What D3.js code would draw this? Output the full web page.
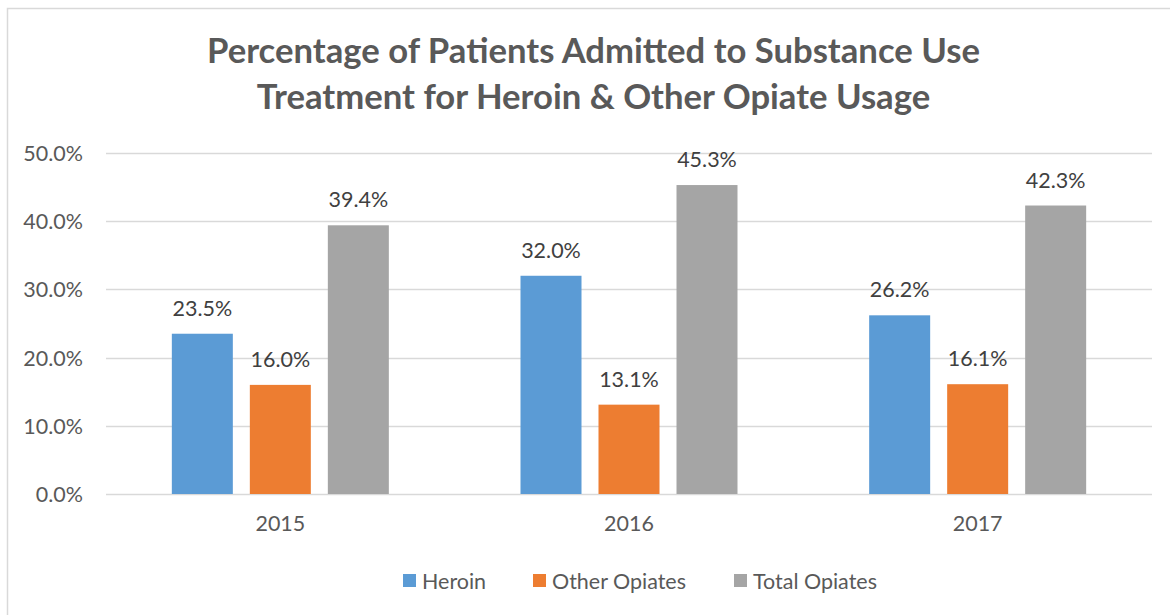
<!DOCTYPE html>
<html>
<head>
<meta charset="utf-8">
<script src="https://cdn.jsdelivr.net/npm/d3@7"></script>
<style>
  html, body { margin: 0; padding: 0; background: #fff; }
  svg { display: block; }
  text { font-family: Lato, "Open Sans", "DejaVu Sans", sans-serif; }
</style>
</head>
<body>
<svg id="chart" width="1170" height="615"></svg>
<script>
const titleLines = ["Percentage of Patients Admitted to Substance Use", "Treatment for Heroin & Other Opiate Usage"];
const years = ["2015", "2016", "2017"];
const seriesNames = ["Heroin", "Other Opiates", "Total Opiates"];
const heroin = [0.235, 0.320, 0.262];
const otherOpiates = [0.160, 0.131, 0.161];
const totalOpiates = [0.394, 0.453, 0.423];
const yTicks = [0, 0.1, 0.2, 0.3, 0.4, 0.5];
const colors = ["#5B9BD5", "#ED7D31", "#A5A5A5"];

const seriesValues = [heroin, otherOpiates, totalOpiates];
const data = years.map((yr, i) => ({ year: yr, values: seriesNames.map((s, j) => ({ series: s, value: seriesValues[j][i], color: colors[j] })) }));

const svg = d3.select("#chart");

// outer chart border
svg.append("rect").attr("x", 7.5).attr("y", 8.5).attr("width", 1180).attr("height", 620)
  .attr("fill", "#fff").attr("stroke", "#D9D9D9").attr("stroke-width", 1.5);

function fitFont(sel, targetWidth) {
  const base = 20;
  sel.style("font-size", base + "px");
  const w = sel.node().getComputedTextLength();
  const size = base * targetWidth / w;
  return size;
}

// Title
const titleG = svg.append("g");
const t1 = titleG.append("text").attr("x", 593.5).attr("y", 63).attr("text-anchor", "middle")
  .attr("fill", "#595959").style("font-weight", "bold").text(titleLines[0]);
const titleSize = fitFont(t1, 773);
t1.style("font-size", titleSize + "px");
titleG.append("text").attr("x", 593.5).attr("y", 109).attr("text-anchor", "middle")
  .attr("fill", "#595959").style("font-weight", "bold").style("font-size", titleSize + "px").text(titleLines[1]);

// measure body font size
const probe = svg.append("text").text("Total Opiates");
const bodySize = fitFont(probe, 124);
probe.remove();

const x = d3.scaleBand().domain(years).range([106, 1152]).paddingInner(0).paddingOuter(0);
const step = 78, pIn = 17 / 78;
const pOut = (x.bandwidth() / step - (seriesNames.length - pIn)) / 2;
const xInner = d3.scaleBand().domain(seriesNames).range([0, x.bandwidth()]).paddingInner(pIn).paddingOuter(pOut);
const y = d3.scaleLinear().domain([0, 0.5]).range([494, 153]);

// gridlines
svg.append("g").selectAll("line").data(yTicks).join("line")
  .attr("x1", 106).attr("x2", 1152)
  .attr("y1", d => Math.round(y(d)) + 0.5).attr("y2", d => Math.round(y(d)) + 0.5)
  .attr("stroke", "#D9D9D9").attr("stroke-width", 1.5);

// y axis labels
const yAxis = d3.axisLeft(y).tickValues(yTicks).tickFormat(d3.format(".1%")).tickSize(0).tickPadding(0);
const yg = svg.append("g").attr("transform", "translate(83,0)").call(yAxis);
yg.select(".domain").remove();
yg.selectAll("text").attr("fill", "#595959").style("font-size", bodySize + "px")
  .style("font-family", "Lato, 'Open Sans', sans-serif").attr("dy", "0.35em");

// x axis labels
const xAxis = d3.axisBottom(x).tickSize(0).tickPadding(0);
const xg = svg.append("g").attr("transform", "translate(0,531)").call(xAxis);
xg.select(".domain").remove();
xg.selectAll("text").attr("fill", "#595959").style("font-size", bodySize + "px")
  .style("font-family", "Lato, 'Open Sans', sans-serif").attr("dy", "0");

// bars
const groups = svg.append("g").selectAll("g").data(data).join("g")
  .attr("transform", d => `translate(${x(d.year)},0)`);
groups.selectAll("rect").data(d => d.values).join("rect")
  .attr("x", d => xInner(d.series)).attr("width", xInner.bandwidth())
  .attr("y", d => y(d.value)).attr("height", d => y(0) - y(d.value))
  .attr("fill", d => d.color);
groups.selectAll("text.lbl").data(d => d.values).join("text").attr("class", "lbl")
  .attr("x", d => xInner(d.series) + xInner.bandwidth() / 2)
  .attr("y", d => y(d.value) - 18).attr("text-anchor", "middle")
  .attr("fill", "#404040").style("font-size", bodySize + "px")
  .text(d => d3.format(".1%")(d.value));

// legend
const legendX = [403, 533, 734];
const lg = svg.append("g").selectAll("g").data(seriesNames).join("g")
  .attr("transform", (d, i) => `translate(${legendX[i]},574)`);
lg.append("rect").attr("width", 13).attr("height", 13).attr("fill", (d, i) => colors[i]);
lg.append("text").attr("x", 19).attr("y", 15).attr("fill", "#595959")
  .style("font-size", bodySize + "px").text(d => d);
</script>
</body>
</html>
